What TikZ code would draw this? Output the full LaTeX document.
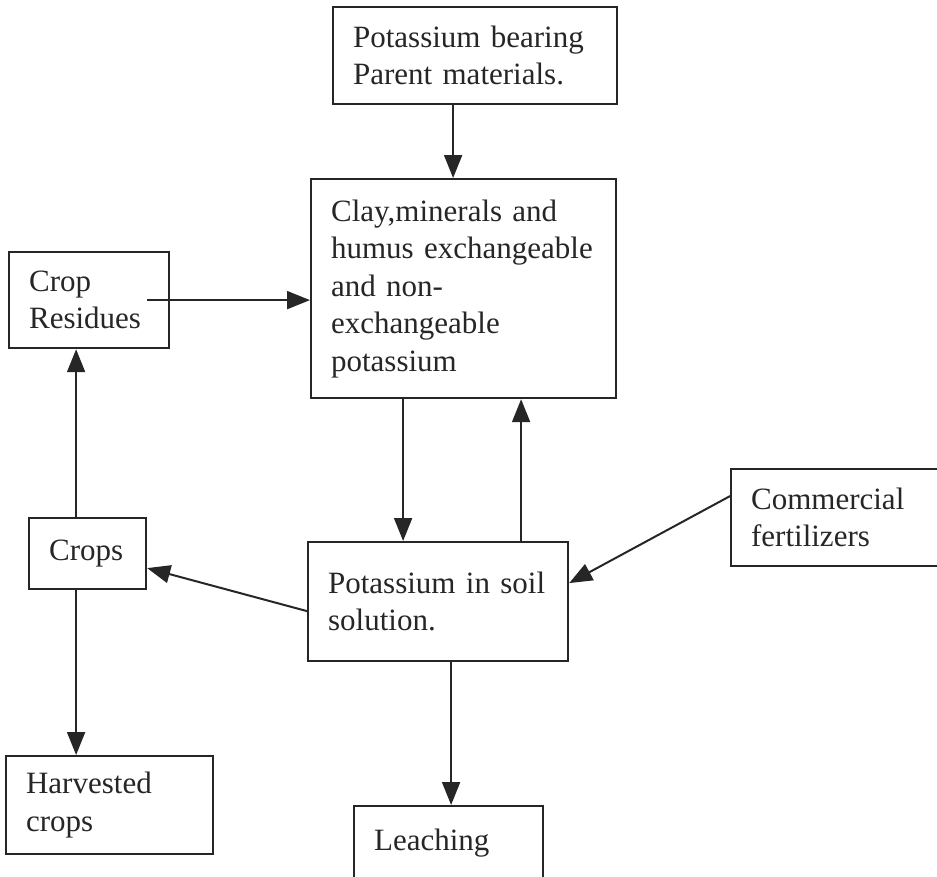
\documentclass[tikz,border=0pt]{standalone}
\usepackage{fontspec}
\setmainfont{Liberation Serif}
\usetikzlibrary{arrows.meta}
\tikzstyle{block} = [rectangle, draw = black!85, line width=2.2pt, anchor=north west, align=left, inner xsep=20pt, inner ysep=0pt, text=black!85, font=\fontsize{31}{37.5}\selectfont]
\tikzstyle{arrow} = [-{Triangle[length=23pt, width=18pt]}, draw = black!85, line width=2pt]

\begin{document}
\begin{tikzpicture}[x=1pt, y=-1pt]
	\useasboundingbox (0,0) rectangle (937,876);
	\node (parent) [block, text width=244pt, minimum height=97pt] at (332,6) {Potassium~bearing\\Parent~materials.};
	\node (clay) [block, text width=265pt, minimum height=219pt] at (310,178) {Clay,minerals~and\\humus~exchangeable\\and~non-\\exchangeable\\potassium};
	\node (res) [block, text width=120pt, minimum height=96pt] at (8,251) {Crop\\Residues};
	\node (crops) [block, text width=77pt, minimum height=71pt] at (28,517) {Crops};
	\node (harv) [block, text width=167pt, minimum height=98pt] at (5,755) {Harvested\\crops};
	\node (soil) [block, text width=220pt, minimum height=119pt] at (307,541) {Potassium~in~soil\\solution.};
	\node (fert) [block, text width=190pt, minimum height=97pt] at (730,468) {Commercial\\fertilizers};
	\node (leach) [block, text width=149pt, minimum height=74pt] at (353,805) {Leaching};
	
	\draw [arrow]([xshift=-22pt]parent.south) -- ([xshift=-22pt]parent.south |- clay.north);
	\draw [arrow]([xshift=-23pt]res.east) -- (res.east -| clay.west);
	\draw [arrow]([xshift=-35pt]soil.north |- clay.south) -- ([xshift=-35pt]soil.north);
	\draw [arrow]([xshift=83pt]soil.north) -- ([xshift=83pt]soil.north |- clay.south);
	\draw [arrow]([xshift=-11.5pt]crops.north) -- ([xshift=-11.5pt]crops.north |- res.south);
	\draw [arrow]([xshift=-11.5pt]crops.south) -- ([xshift=-11.5pt]crops.south |- harv.north);
	\draw [arrow]([yshift=-9.5pt]soil.west) -- ([yshift=-14.5pt]crops.east);
	\draw [arrow]([yshift=21.5pt]fert.west) -- ([yshift=18.5pt]soil.east);
	\draw [arrow]([xshift=13pt]soil.south) -- ([xshift=13pt]soil.south |- leach.north);
\end{tikzpicture}
\end{document}
